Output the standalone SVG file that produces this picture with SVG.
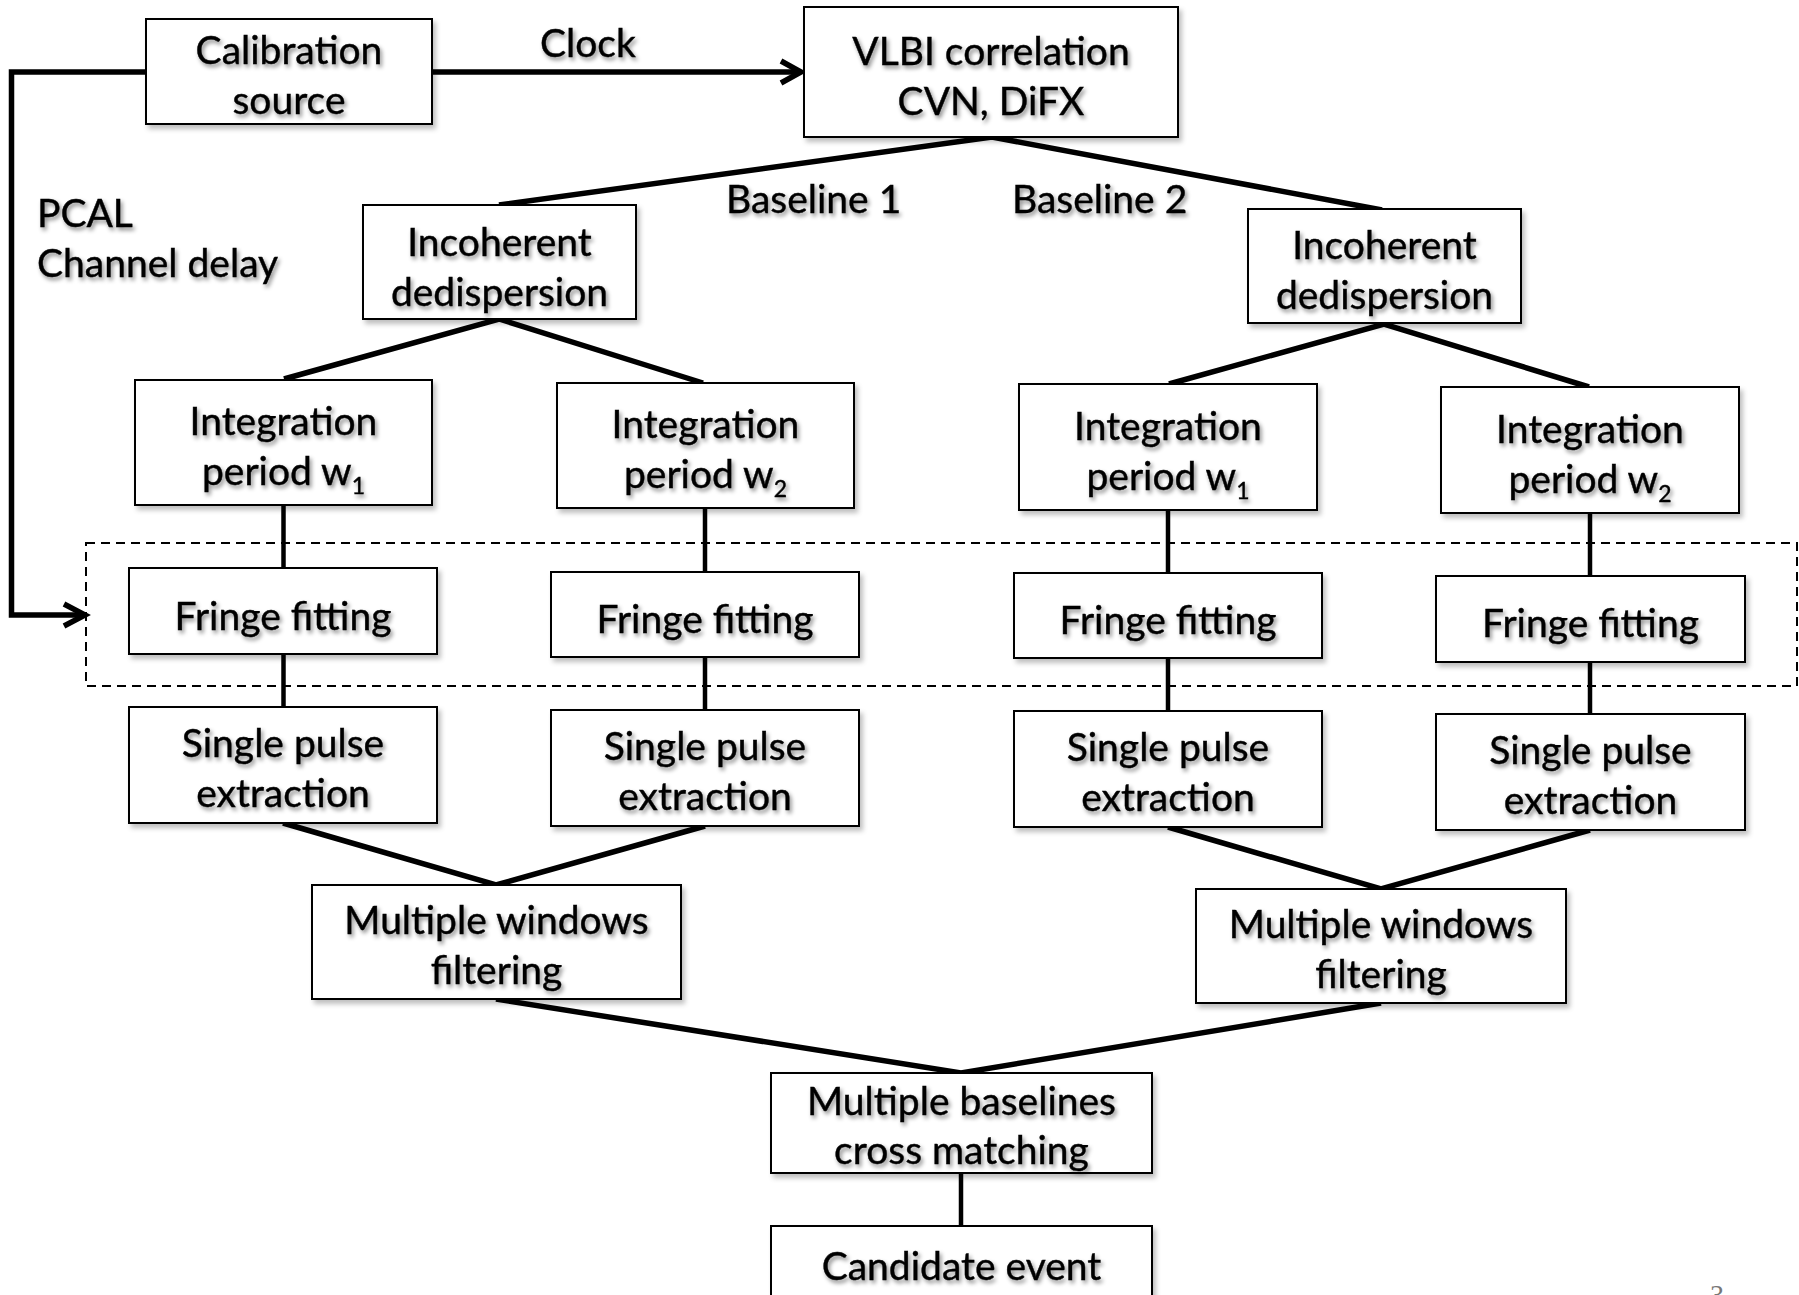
<svg xmlns="http://www.w3.org/2000/svg" width="1799" height="1295" viewBox="0 0 1799 1295">
<defs>
<filter id="ts" x="-10%" y="-30%" width="120%" height="160%">
<feGaussianBlur in="SourceAlpha" stdDeviation="2"/>
<feOffset dx="2" dy="3" result="b"/>
<feFlood flood-color="#000" flood-opacity="0.45"/>
<feComposite in2="b" operator="in" result="s"/>
<feMerge><feMergeNode in="s"/><feMergeNode in="SourceGraphic"/></feMerge>
</filter>
<filter id="bs" x="-5%" y="-10%" width="115%" height="130%">
<feGaussianBlur in="SourceAlpha" stdDeviation="2.5"/>
<feOffset dx="3" dy="4" result="b"/>
<feFlood flood-color="#000" flood-opacity="0.25"/>
<feComposite in2="b" operator="in" result="s"/>
<feMerge><feMergeNode in="s"/><feMergeNode in="SourceGraphic"/></feMerge>
</filter>
</defs>
<style>
.box{fill:#fff;stroke:#000;stroke-width:2;filter:url(#bs)}
.t{font-family:Lato,"Open Sans","Liberation Sans",sans-serif;font-size:39px;fill:#000;text-anchor:middle;filter:url(#ts);stroke:#000;stroke-width:0.4}
.l{font-family:Lato,"Open Sans","Liberation Sans",sans-serif;font-size:39px;fill:#000;stroke:#000;stroke-width:0.4}
.sub{font-size:23px}
.c{fill:none;stroke:#000;stroke-width:5.5;stroke-linejoin:miter;stroke-linecap:butt}
.v{fill:none;stroke:#000;stroke-width:4.5}
.dash{fill:none;stroke:#000;stroke-width:2;stroke-dasharray:9 6}
</style>
<rect width="1799" height="1295" fill="#fff"/>

<rect class="dash" x="86" y="543" width="1711" height="143"/>

<g id="connectors">
<line class="c" x1="432" y1="72" x2="799" y2="72"/>
<polyline class="c" points="781,61 801,72 781,83"/>
<polyline class="c" points="146,72 11.5,72 11.5,615 84,615"/>
<polyline class="c" points="64,604 85,615 64,626"/>
<polyline class="c" points="499,205 992,137 1382,210"/>
<polyline class="c" points="284,379 499,319 703,383"/>
<polyline class="c" points="1169,384 1384,324 1589,387"/>
<line class="v" x1="283.5" y1="505" x2="283.5" y2="568"/>
<line class="v" x1="283.5" y1="654" x2="283.5" y2="707"/>
<line class="v" x1="705" y1="508" x2="705" y2="572"/>
<line class="v" x1="705" y1="657" x2="705" y2="710"/>
<line class="v" x1="1168" y1="510" x2="1168" y2="573"/>
<line class="v" x1="1168" y1="658" x2="1168" y2="711"/>
<line class="v" x1="1590" y1="513" x2="1590" y2="576"/>
<line class="v" x1="1590" y1="662" x2="1590" y2="714"/>
<polyline class="c" points="283,823 496,885 705,826"/>
<polyline class="c" points="1168,827 1381,889 1590,830"/>
<polyline class="c" points="496,999 961,1073 1381,1003"/>
<line class="v" x1="961" y1="1173" x2="961" y2="1226"/>
</g>

<g id="labels">
<text class="l" x="540" y="57" filter="url(#ts)">Clock</text>
<text class="l" x="37" y="227" filter="url(#ts)">PCAL</text>
<text class="l" x="37" y="277" filter="url(#ts)">Channel delay</text>
<text class="l" x="726" y="213" filter="url(#ts)">Baseline 1</text>
<text class="l" x="1012" y="213" filter="url(#ts)">Baseline 2</text>
</g>

<g id="calibration">
<rect class="box" x="146" y="19" width="286" height="105"/>
<text class="t" x="289" y="64">Calibration</text>
<text class="t" x="289" y="114">source</text>
</g>
<g id="vlbi">
<rect class="box" x="804" y="7" width="374" height="130"/>
<text class="t" x="991" y="65">VLBI correlation</text>
<text class="t" x="991" y="115">CVN, DiFX</text>
</g>
<g id="incoh1">
<rect class="box" x="363" y="205" width="273" height="114"/>
<text class="t" x="499.5" y="256">Incoherent</text>
<text class="t" x="499.5" y="306">dedispersion</text>
</g>
<g id="incoh2">
<rect class="box" x="1248" y="209" width="273" height="114"/>
<text class="t" x="1384.5" y="259">Incoherent</text>
<text class="t" x="1384.5" y="309">dedispersion</text>
</g>

<g id="int1">
<rect class="box" x="135" y="380" width="297" height="125"/>
<text class="t" x="283.5" y="435">Integration</text>
<text class="t" x="283.5" y="485">period w<tspan class="sub" dy="9">1</tspan></text>
</g>
<g id="int2">
<rect class="box" x="557" y="383" width="297" height="125"/>
<text class="t" x="705.5" y="438">Integration</text>
<text class="t" x="705.5" y="488">period w<tspan class="sub" dy="9">2</tspan></text>
</g>
<g id="int3">
<rect class="box" x="1019" y="384" width="298" height="126"/>
<text class="t" x="1168" y="440">Integration</text>
<text class="t" x="1168" y="490">period w<tspan class="sub" dy="9">1</tspan></text>
</g>
<g id="int4">
<rect class="box" x="1441" y="387" width="298" height="126"/>
<text class="t" x="1590" y="443">Integration</text>
<text class="t" x="1590" y="493">period w<tspan class="sub" dy="9">2</tspan></text>
</g>

<g id="fringe1">
<rect class="box" x="129" y="568" width="308" height="86"/>
<text class="t" x="283" y="630">Fringe fitting</text>
</g>
<g id="fringe2">
<rect class="box" x="551" y="572" width="308" height="85"/>
<text class="t" x="705" y="633">Fringe fitting</text>
</g>
<g id="fringe3">
<rect class="box" x="1014" y="573" width="308" height="85"/>
<text class="t" x="1168" y="634">Fringe fitting</text>
</g>
<g id="fringe4">
<rect class="box" x="1436" y="576" width="309" height="86"/>
<text class="t" x="1590.5" y="637">Fringe fitting</text>
</g>

<g id="sp1">
<rect class="box" x="129" y="707" width="308" height="116"/>
<text class="t" x="283" y="757">Single pulse</text>
<text class="t" x="283" y="807">extraction</text>
</g>
<g id="sp2">
<rect class="box" x="551" y="710" width="308" height="116"/>
<text class="t" x="705" y="760">Single pulse</text>
<text class="t" x="705" y="810">extraction</text>
</g>
<g id="sp3">
<rect class="box" x="1014" y="711" width="308" height="116"/>
<text class="t" x="1168" y="761">Single pulse</text>
<text class="t" x="1168" y="811">extraction</text>
</g>
<g id="sp4">
<rect class="box" x="1436" y="714" width="309" height="116"/>
<text class="t" x="1590.5" y="764">Single pulse</text>
<text class="t" x="1590.5" y="814">extraction</text>
</g>

<g id="mwf1">
<rect class="box" x="312" y="885" width="369" height="114"/>
<text class="t" x="496.5" y="934">Multiple windows</text>
<text class="t" x="496.5" y="984">filtering</text>
</g>
<g id="mwf2">
<rect class="box" x="1196" y="889" width="370" height="114"/>
<text class="t" x="1381" y="938">Multiple windows</text>
<text class="t" x="1381" y="988">filtering</text>
</g>

<g id="mbcm">
<rect class="box" x="771" y="1073" width="381" height="100"/>
<text class="t" x="961.5" y="1115">Multiple baselines</text>
<text class="t" x="961.5" y="1164">cross matching</text>
</g>
<g id="candidate">
<rect class="box" x="771" y="1226" width="381" height="90"/>
<text class="t" x="961.5" y="1280">Candidate event</text>
</g>

<text x="1710" y="1304" font-family="'Liberation Serif',serif" font-size="28" fill="#777">3</text>
</svg>
